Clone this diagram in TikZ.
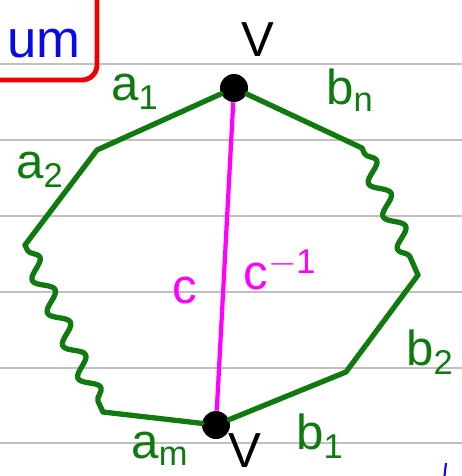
\documentclass[tikz,border=0pt]{standalone}
\usepackage{fontspec}
\setmainfont{Liberation Sans}
\usepackage{tikz}
\usetikzlibrary{decorations.pathmorphing}
\definecolor{verdeLado}{RGB}{16,122,16}
\definecolor{magentaCorda}{RGB}{255,0,255}
\definecolor{vermelhoCaixa}{RGB}{238,0,0}
\definecolor{azulTexto}{RGB}{10,10,230}
\definecolor{cinzaPauta}{RGB}{192,192,192}

\begin{document}
\begin{tikzpicture}[
    pauta/.style={draw=cinzaPauta, line width=0.7pt},
    lado/.style={draw=verdeLado, line width=3pt, line cap=round, line join=round},
    ondulado/.style={lado, decorate, decoration={snake, amplitude=0.17cm, segment length=0.72cm, pre length=0.12cm, post length=0.12cm}},
    corda/.style={draw=magentaCorda, line width=2.4pt},
    vertice/.style={circle, fill=black, inner sep=0pt, minimum size=0.56cm},
    rotulo/.style={text=verdeLado, font=\fontsize{28}{28}\selectfont},
    rotuloV/.style={text=black, font=\fontsize{28}{28}\selectfont},
    rotuloC/.style={text=magentaCorda, font=\fontsize{28}{28}\selectfont}
]
    \useasboundingbox (0,0) rectangle (9.24,-9.52);

    % Pauta do caderno
    \foreach \y in {1.28,2.8,4.32,5.84,7.36,8.86}
        \draw[pauta] (0,-\y) -- (9.24,-\y);

    % Caixa do titulo
    \draw[draw=vermelhoCaixa, line width=2.8pt, rounded corners=0.3cm] (-0.3,-1.6) -- (1.94,-1.6) -- (1.94,0.3);
    \node[text=azulTexto, font=\fontsize{30}{30}\selectfont, anchor=base west] (titulo) at (0.02,-1.15) {um};

    % Vertices
    \node[vertice] (vTopo) at (4.68,-1.76) {};
    \node[vertice] (vBase) at (4.32,-8.5) {};
    \coordinate (cA1) at (1.94,-3.0);
    \coordinate (cA2) at (0.5,-4.9);
    \coordinate (cA3) at (2.06,-8.24);
    \coordinate (cB1) at (6.92,-7.44);
    \coordinate (cB2) at (8.36,-5.5);
    \coordinate (cB3) at (7.24,-2.96);

    % Lados do poligono
    \draw[lado] (vTopo) -- (cA1) -- (cA2);
    \draw[ondulado] (cA2) -- (cA3);
    \draw[lado] (cA3) -- (vBase) -- (cB1) -- (cB2);
    \draw[ondulado] (cB3) -- (cB2);
    \draw[lado] (cB3) -- (vTopo);

    % Corda
    \draw[corda] (vTopo) -- (vBase);

    % Rotulos
    \node[rotuloV] (lVTopo) at (5.16,-0.8) {V};
    \node[rotuloV] (lVBase) at (4.9,-9.02) {V};
    \node[rotulo] (la1) at (2.7,-1.84) {a\textsubscript{1}};
    \node[rotulo] (la2) at (0.8,-3.4) {a\textsubscript{2}};
    \node[rotulo] (lam) at (3.2,-8.98) {a\textsubscript{m}};
    \node[rotulo] (lbn) at (7.0,-1.8) {b\textsubscript{n}};
    \node[rotulo] (lb2) at (8.6,-7.04) {b\textsubscript{2}};
    \node[rotulo] (lb1) at (6.4,-8.72) {b\textsubscript{1}};
    \node[rotuloC] (lc) at (3.7,-5.8) {c};
    \node[rotuloC] (lcInv) at (5.6,-5.4) {c\textsuperscript{$-$1}};

    % Marca azul
    \draw[draw=azulTexto, line width=1.2pt] (8.92,-9.26) -- (8.88,-9.6);
\end{tikzpicture}
\end{document}
